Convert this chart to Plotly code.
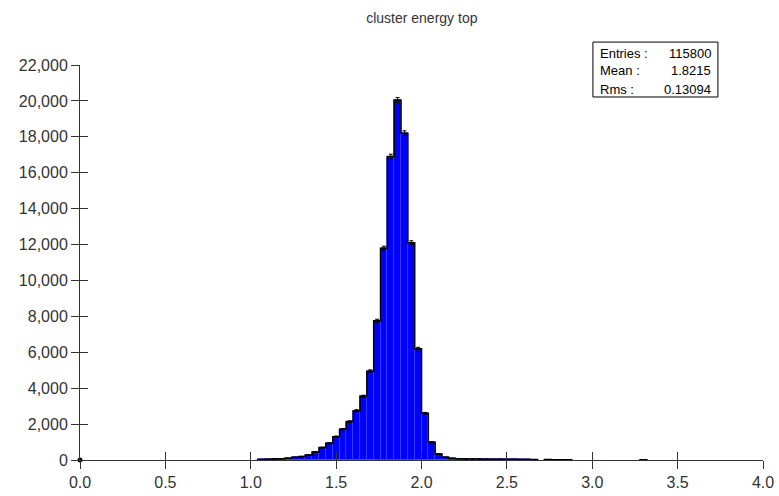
import numpy as np
import plotly.graph_objects as go

# ---- data ----
title_text = "cluster energy top"
bin_low = 0.0
bin_width = 0.04
counts = [0] * 26 + [
    30, 40, 55, 70, 95,            # 26-30
    150, 190, 280, 445, 690,       # 31-35
    930, 1300, 1710, 2140, 2750,   # 36-40
    3550, 4950, 7750, 11800, 16900,  # 41-45
    20050, 18200, 12100, 6200, 2600,  # 46-50
    985, 335, 150, 90, 70,         # 51-55
    60, 55, 50, 45, 40,            # 56-60
    40, 35, 35, 30, 30,            # 61-65
    25, 0, 25, 20, 20,             # 66-70
    20,                            # 71
] + [0] * 10 + [15] + [0] * 17
stats_labels = ["Entries :", "Mean :", "Rms :"]
stats_values = ["115800", "1.8215", "0.13094"]
x_tick_vals = [0.0, 0.5, 1.0, 1.5, 2.0, 2.5, 3.0, 3.5, 4.0]
x_tick_text = ["0.0", "0.5", "1.0", "1.5", "2.0", "2.5", "3.0", "3.5", "4.0"]
y_tick_vals = [0, 2000, 4000, 6000, 8000, 10000, 12000, 14000, 16000, 18000, 20000, 22000]
y_tick_text = ["0", "2,000", "4,000", "6,000", "8,000", "10,000", "12,000",
               "14,000", "16,000", "18,000", "20,000", "22,000"]

counts = np.array(counts, dtype=float)
nb = len(counts)
edges = bin_low + bin_width * np.arange(nb + 1)
centers = 0.5 * (edges[:-1] + edges[1:])

FONT = "Liberation Sans, Arial, sans-serif"
AX = "#333333"

fig = go.Figure()

mask = counts > 0
fig.add_trace(go.Bar(
    x=centers[mask], y=counts[mask], width=bin_width,
    marker=dict(color="#0000ff", line=dict(color="#3c3cff", width=0.6)),
    error_y=dict(type="data", array=np.sqrt(counts[mask]), visible=True,
                 color="black", thickness=1, width=2),
    showlegend=False, hoverinfo="skip",
))

# step outline, runs of non-empty bins
sx, sy = [], []
i = 0
while i < nb:
    if counts[i] > 0:
        j = i
        while j < nb and counts[j] > 0:
            j += 1
        sx.append(edges[i]); sy.append(0)
        for k in range(i, j):
            sx.append(edges[k]); sy.append(counts[k])
        sx.append(edges[j]); sy.append(0)
        sx.append(None); sy.append(None)
        i = j
    else:
        i += 1
fig.add_trace(go.Scatter(x=sx, y=sy, mode="lines", line=dict(color="black", width=1.5, shape="hv"),
                         showlegend=False, hoverinfo="skip", connectgaps=False))

# origin dot
fig.add_trace(go.Scatter(x=[x_tick_vals[0]], y=[y_tick_vals[0]], mode="markers",
                         marker=dict(color="black", size=5), showlegend=False, hoverinfo="skip",
                         cliponaxis=False))
# invisible trace for overlay axes (inner tick halves)
fig.add_trace(go.Scatter(x=[x_tick_vals[0]], y=[y_tick_vals[0]], xaxis="x2", yaxis="y2",
                         mode="markers", marker=dict(opacity=0), showlegend=False, hoverinfo="skip"))

tickfont = dict(family=FONT, size=16, color=AX)
fig.update_layout(
    width=779, height=496,
    margin=dict(l=80, r=16, t=65, b=36, autoexpand=False),
    plot_bgcolor="white", paper_bgcolor="white",
    bargap=0,
    title=dict(text=title_text, x=0.5415, xanchor="center", y=0.963, yanchor="middle",
               font=dict(family=FONT, size=14, color=AX)),
    xaxis=dict(range=[0, 4], tickmode="array", tickvals=x_tick_vals, ticktext=x_tick_text,
               ticks="outside", ticklen=8, tickwidth=1, tickcolor=AX, automargin=False,
               showline=True, linecolor=AX, linewidth=1, showgrid=False, zeroline=False,
               tickfont=tickfont),
    yaxis=dict(range=[0, 22000], tickmode="array", tickvals=y_tick_vals, ticktext=y_tick_text,
               ticks="outside", ticklen=8, tickwidth=1, tickcolor=AX, automargin=False,
               showline=True, linecolor=AX, linewidth=1, showgrid=False, zeroline=False,
               tickfont=tickfont),
    xaxis2=dict(overlaying="x", range=[0, 4], tickmode="array", tickvals=x_tick_vals,
                ticks="inside", ticklen=8, tickwidth=1, tickcolor=AX, showticklabels=False,
                showline=False, showgrid=False, zeroline=False, automargin=False),
    yaxis2=dict(overlaying="y", range=[0, 22000], tickmode="array", tickvals=y_tick_vals,
                ticks="inside", ticklen=8, tickwidth=1, tickcolor=AX, showticklabels=False,
                showline=False, showgrid=False, zeroline=False, automargin=False),
)

# stats box
bx0, bx1, by0, by1 = 0.751, 0.934, 0.919, 1.058
fig.add_shape(type="rect", xref="paper", yref="paper", x0=bx0, x1=bx1, y0=by0, y1=by1,
              line=dict(color="black", width=1), fillcolor="white", layer="above")
rows_y = [1.030, 0.985, 0.939]
for lab, val, yy in zip(stats_labels, stats_values, rows_y):
    fig.add_annotation(xref="paper", yref="paper", x=bx0 + 0.007, y=yy, text=lab,
                       showarrow=False, xanchor="left", yanchor="middle",
                       font=dict(family=FONT, size=13, color="black"))
    fig.add_annotation(xref="paper", yref="paper", x=bx1 - 0.007, y=yy, text=val,
                       showarrow=False, xanchor="right", yanchor="middle",
                       font=dict(family=FONT, size=13, color="black"))

fig.write_html("out.html")
